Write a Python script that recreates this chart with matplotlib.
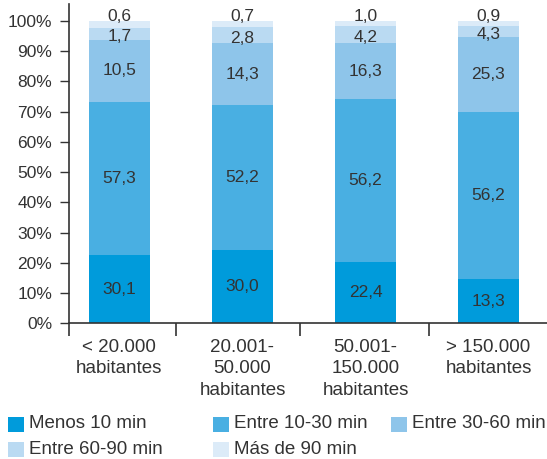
import numpy as np
import matplotlib
matplotlib.use('Agg')
import matplotlib.pyplot as plt
from matplotlib.patches import Rectangle

plt.rcParams['font.family'] = ['Liberation Sans', 'DejaVu Sans']

categories = ['< 20.000\nhabitantes', '20.001-\n50.000\nhabitantes',
              '50.001-\n150.000\nhabitantes', '> 150.000\nhabitantes']
series = ['Menos 10 min', 'Entre 10-30 min', 'Entre 30-60 min',
          'Entre 60-90 min', 'Más de 90 min']
colors = ['#009bdb', '#49afe2', '#8ec5ea', '#badaf2', '#dcebf8']

# drawn segment heights (as they appear in the picture, %)
menos_10 = [22.6, 24.2, 20.3, 14.7]
entre_10_30 = [50.7, 47.9, 53.8, 55.1]
entre_30_60 = [20.5, 20.5, 18.5, 24.8]
entre_60_90 = [3.8, 5.3, 5.7, 3.6]
mas_90 = [2.4, 2.1, 1.7, 1.8]

# printed value labels
lab_menos_10 = ['30,1', '30,0', '22,4', '13,3']
lab_entre_10_30 = ['57,3', '52,2', '56,2', '56,2']
lab_entre_30_60 = ['10,5', '14,3', '16,3', '25,3']
lab_entre_60_90 = ['1,7', '2,8', '4,2', '4,3']
lab_mas_90 = ['0,6', '0,7', '1,0', '0,9']

heights = [menos_10, entre_10_30, entre_30_60, entre_60_90, mas_90]
labels = [lab_menos_10, lab_entre_10_30, lab_entre_30_60, lab_entre_60_90, lab_mas_90]

txt = '#333333'
W, H = 547, 459

fig = plt.figure(figsize=(W / 100, H / 100), dpi=100)
ax = fig.add_axes([69 / W, (H - 323.3) / H, 478 / W, 319 / H])

x = np.arange(len(categories))
bottom = np.zeros(len(categories))
for i, (vals, labs) in enumerate(zip(heights, labels)):
    vals = np.array(vals)
    ax.bar(x, vals, 0.5, bottom=bottom, color=colors[i], linewidth=0)
    for j in range(len(x)):
        yc = bottom[j] + vals[j] / 2
        if i == 4:
            yc = 101.3
        elif i == 3:
            yc -= 1.0
        ax.text(x[j], yc, labs[j], ha='center', va='center', fontsize=12.5, color=txt)
    bottom += vals

ax.set_xlim(-0.41, 3.476)
ax.set_ylim(0, 105.5)
for s in ['top', 'right']:
    ax.spines[s].set_visible(False)
for s in ['left', 'bottom']:
    ax.spines[s].set_color(txt)
    ax.spines[s].set_linewidth(1.2)

yt = np.arange(0, 101, 10)
ax.set_yticks(yt)
ax.set_yticklabels([f'{v}%' for v in yt])
ax.tick_params(axis='y', direction='out', length=6.5, width=1, color=txt,
               labelsize=12.5, labelcolor=txt, pad=5.5)

ax.set_xticks(x)
ax.set_xticklabels(categories, fontsize=13.5, color=txt, linespacing=1.35)
ax.set_xticks([-0.41, 0.46, 1.47, 2.52], minor=True)
ax.tick_params(axis='x', which='major', length=0, pad=11)
ax.tick_params(axis='x', which='minor', direction='out', length=9, width=1.2, color=txt)

# legend drawn by hand (uneven columns)
legend_pos = [(8, 424), (213, 424), (391, 424), (8, 449), (213, 449)]
for (lx, ly), name, c in zip(legend_pos, series, colors):
    fig.add_artist(Rectangle((lx / W, 1 - (ly + 8) / H), 16 / W, 15 / H,
                             transform=fig.transFigure, color=c, lw=0))
    fig.text((lx + 21) / W, 1 - ly / H, name, ha='left', va='center',
             fontsize=13.5, color=txt)

fig.savefig('out.png', dpi=100)
